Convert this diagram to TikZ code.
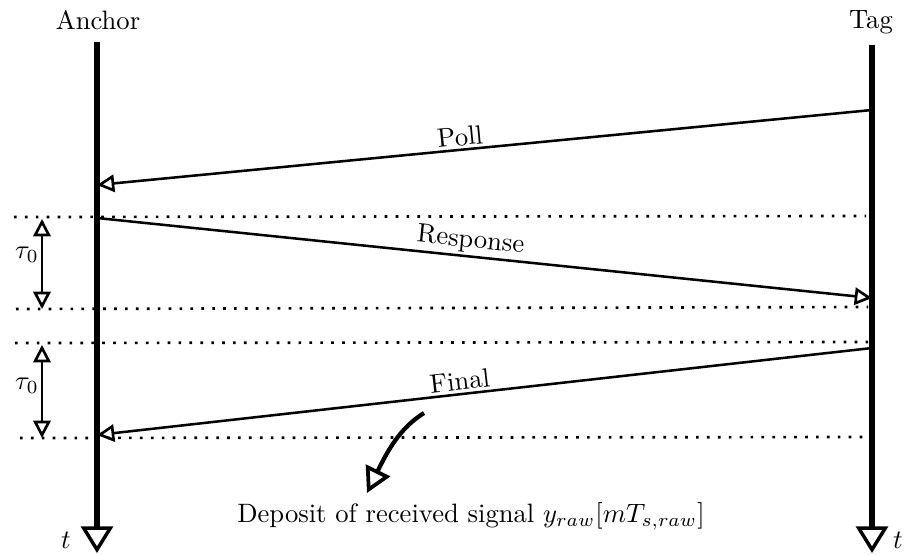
\documentclass[tikz,border=0pt]{standalone}
\usetikzlibrary{arrows.meta}
\begin{document}
\begin{tikzpicture}[x=0.376pt,y=-0.376pt,
  lifeline/.style={line width=1.9pt,-{Triangle[open,length=10pt,width=12pt,line width=1.3pt]}},
  msg/.style={line width=0.95pt,-{Triangle[open,length=6.5pt,width=6.5pt,line width=1pt]}},
  span/.style={line width=0.95pt,{Triangle[open,length=6.5pt,width=6.5pt,line width=1pt]}-{Triangle[open,length=6.5pt,width=6.5pt,line width=1pt]}},
  dots/.style={line width=1pt,dash pattern=on 1pt off 3.1pt},
  lbl/.style={inner sep=1pt}]
\useasboundingbox (0,0) rectangle (906,554);
% lifelines
\node[lbl] (anchor) at (98,20) {Anchor};
\node[lbl] (tag) at (871,22) {Tag};
\coordinate (a0) at (97,42);
\coordinate (a1) at (97,553);
\coordinate (t0) at (872,45);
\coordinate (t1) at (872,553);
\draw[lifeline] (a0) -- (a1);
\draw[lifeline] (t0) -- (t1);
\node[lbl] (ta) at (66,540) {$t$};
\node[lbl] (tt) at (898,540) {$t$};
% dotted lines
\coordinate (d1l) at (14,217); \coordinate (d1r) at (866,216);
\coordinate (d2l) at (16,309); \coordinate (d2r) at (868,307);
\coordinate (d3l) at (15,343); \coordinate (d3r) at (868,342);
\coordinate (d4l) at (20,438); \coordinate (d4r) at (870,437);
\draw[dots] (d1l) -- (d1r);
\draw[dots] (d2l) -- (d2r);
\draw[dots] (d3l) -- (d3r);
\draw[dots] (d4l) -- (d4r);
% messages
\coordinate (pS) at (872,110); \coordinate (pE) at (97,185);
\coordinate (rS) at (97,218); \coordinate (rE) at (872,298);
\coordinate (fS) at (872,348); \coordinate (fE) at (97,435);
\draw[msg] (pS) -- node[pos=0.53,above,sloped,lbl] (poll) {Poll} (pE);
\draw[msg] (rS) -- node[pos=0.48,above,sloped,lbl] (resp) {Response} (rE);
\draw[msg] (fS) -- node[pos=0.53,above,sloped,lbl] (final) {Final} (fE);
% tau spans
\coordinate (s1a) at (42,219); \coordinate (s1b) at (42,309);
\coordinate (s2a) at (42,345); \coordinate (s2b) at (42,438);
\draw[span] (s1a) -- (s1b);
\draw[span] (s2a) -- (s2b);
\node[lbl] (tau1) at (27,255) {$\tau_0$};
\node[lbl] (tau2) at (27,386) {$\tau_0$};
% deposit
\node[lbl] (dep) at (471,516) {Deposit of received signal $y_{raw}[mT_{s,raw}]$};
\coordinate (c0) at (424,413);
\coordinate (c1) at (367,493);
\draw[line width=1.6pt,-{Triangle[open,length=9.5pt,width=10pt,line width=1.4pt]}] (c0) .. controls (400,428) and (388,450) .. (c1);
\end{tikzpicture}
\end{document}
